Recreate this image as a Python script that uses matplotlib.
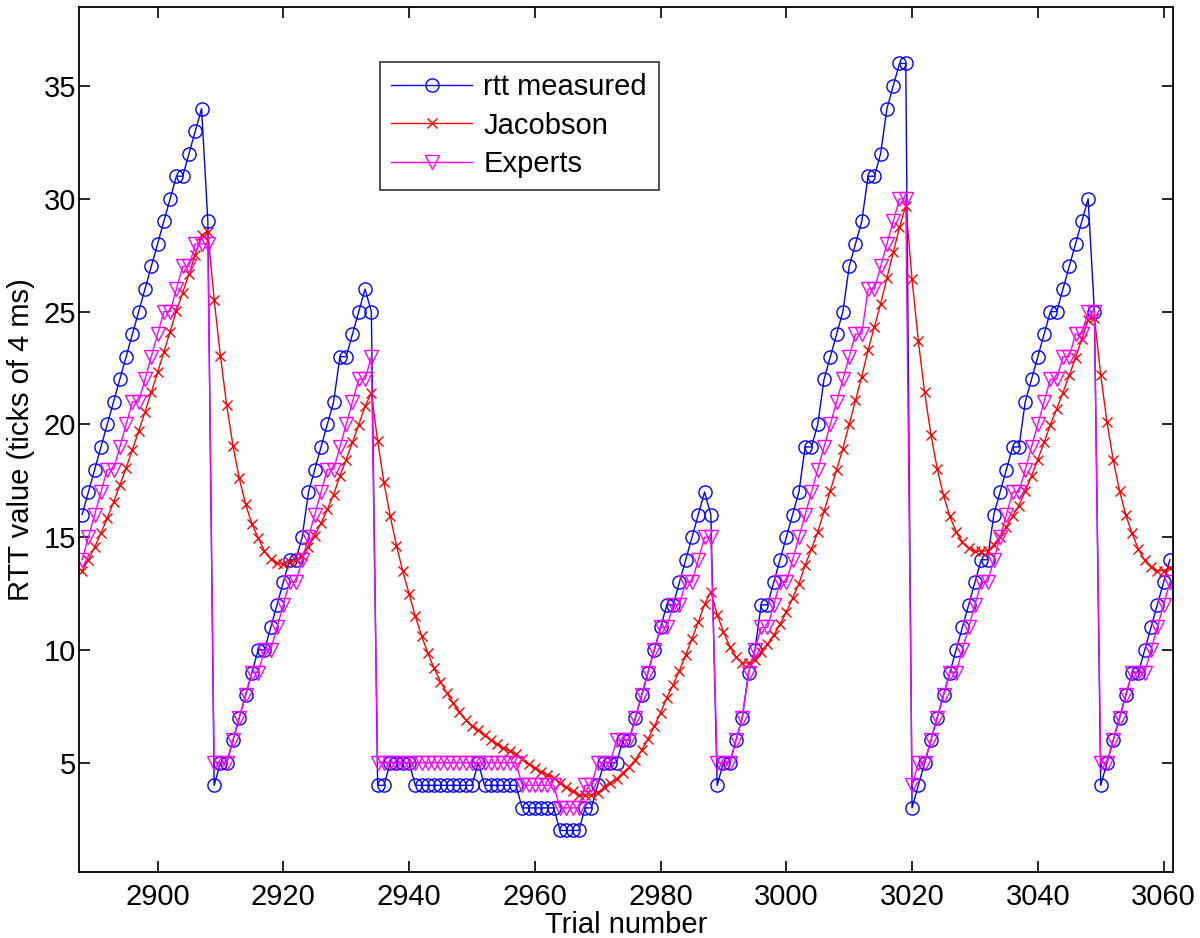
import numpy as np
import matplotlib
matplotlib.use("Agg")
import matplotlib.pyplot as plt

plt.rcParams['font.family'] = ['Liberation Sans', 'DejaVu Sans']

# trial numbers 2888 .. 3061
trials = np.arange(2888, 3062)

rtt_measured = [
    16, 17, 18, 19, 20, 21, 22, 23, 24, 25, 26, 27, 28, 29, 30, 31, 31, 32, 33, 34, 29,
    4, 5, 5, 6, 7, 8, 9, 10, 10, 11, 12, 13, 14, 14, 15, 17, 18, 19, 20, 21, 23, 23, 24, 25, 26, 25,
    4, 4, 5, 5, 5, 5, 4, 4, 4, 4, 4, 4, 4, 4, 4, 4, 5, 4, 4, 4, 4, 4, 4,
    3, 3, 3, 3, 3, 3, 2, 2, 2, 2,
    3, 3, 4, 5, 5, 5, 6, 6, 7, 8, 9, 10, 11, 12, 12, 13, 14, 15, 16, 17, 16,
    4, 5, 5, 6, 7, 9, 10, 12, 12, 13, 14, 15, 16, 17, 19, 19, 20, 22, 23, 24, 25, 27, 28, 29,
    31, 31, 32, 34, 35, 36, 36,
    3, 4, 5, 6, 7, 8, 9, 10, 11, 12, 13, 14, 14, 16, 17, 18, 19, 19, 21, 22, 23, 24, 25, 25,
    26, 27, 28, 29, 30, 25,
    4, 5, 6, 7, 8, 9, 9, 10, 11, 12, 13, 14,
]

jacobson = [
    13.50, 14.00, 14.56, 15.18, 15.85, 16.55, 17.30, 18.07, 18.87, 19.70, 20.55, 21.42,
    22.30, 23.20, 24.11, 25.03, 25.84, 26.67, 27.52, 28.39, 28.53,
    25.53, 23.03, 20.84, 19.05, 17.61, 16.47, 15.60, 14.96, 14.40, 14.04, 13.85, 13.81,
    13.90, 13.97, 14.16, 14.58, 15.07, 15.62, 16.23, 16.89, 17.72, 18.44, 19.20, 19.99,
    20.80, 21.39,
    19.28, 17.43, 15.94, 14.63, 13.49, 12.49, 11.49, 10.62, 9.85, 9.18, 8.60, 8.09, 7.64,
    7.25, 6.91, 6.61, 6.47, 6.22, 6.01, 5.82, 5.66, 5.51, 5.38, 5.15, 4.94, 4.76, 4.60,
    4.46, 4.34, 4.11, 3.91, 3.73, 3.58,
    3.57, 3.56, 3.68, 3.91, 4.11, 4.28, 4.56, 4.80, 5.14, 5.56, 6.05, 6.61, 7.22, 7.88,
    8.46, 9.09, 9.77, 10.49, 11.24, 12.02, 12.58,
    11.57, 10.81, 10.15, 9.69, 9.42, 9.43, 9.56, 9.93, 10.25, 10.66, 11.14, 11.69, 12.29,
    12.94, 13.76, 14.48, 15.23, 16.14, 17.06, 17.99, 18.93, 20.00, 21.06, 22.12, 23.29,
    24.32, 25.34, 26.49, 27.62, 28.73, 29.70,
    26.43, 23.69, 21.42, 19.55, 18.04, 16.85, 15.93, 15.25, 14.78, 14.50, 14.37, 14.39,
    14.40, 14.66, 15.02, 15.45, 15.96, 16.40, 17.04, 17.72, 18.44, 19.20, 19.99, 20.68,
    21.41, 22.17, 22.96, 23.78, 24.62, 24.73,
    22.20, 20.11, 18.41, 17.05, 15.98, 15.17, 14.46, 13.97, 13.66, 13.52, 13.52, 13.64,
]

experts = [
    14, 15, 16, 17, 18, 18, 19, 20, 21, 21, 22, 23, 24, 25, 25, 26, 27, 27, 28, 28, 28,
    5, 5, 5, 6, 7, 8, 9, 9, 10, 10, 11, 12, 13, 13, 14, 15, 16, 17, 18, 18, 19, 20, 21, 22, 22, 23,
    5, 5, 5, 5, 5, 5, 5, 5, 5, 5, 5, 5, 5, 5, 5, 5, 5, 5, 5, 5, 5, 5, 5,
    4, 4, 4, 4, 4, 4, 3, 3, 3, 3,
    4, 4, 5, 5, 5, 6, 6, 6, 7, 8, 9, 10, 11, 11, 12, 12, 13, 13, 14, 15, 15,
    5, 5, 5, 6, 7, 9, 10, 11, 11, 12, 13, 13, 14, 15, 16, 17, 18, 19, 20, 21, 22, 23, 24, 24,
    26, 26, 27, 28, 29, 30, 30,
    4, 5, 5, 6, 7, 8, 9, 9, 10, 11, 12, 13, 13, 14, 15, 16, 17, 17, 18, 19, 20, 21, 22, 22,
    23, 23, 24, 24, 25, 25,
    5, 5, 6, 7, 8, 9, 9, 9, 10, 11, 12, 13,
]

fig = plt.figure(figsize=(12, 9.38), dpi=100)
ax = fig.add_axes([0.0658, 0.0704, 0.9117, 0.9221])

ax.plot(trials, rtt_measured, color='#0000ff', lw=1.0, marker='o', ms=9.5,
        mfc='none', mec='#0000ff', mew=1.0, label='rtt measured')
ax.plot(trials, jacobson, color='#ff0000', lw=1.0, marker='x', ms=6.5,
        mew=1.0, label='Jacobson')
ax.plot(trials, experts, color='#ff00ff', lw=1.0, marker='v', ms=9.5,
        mfc='none', mec='#ff00ff', mew=1.0, label='Experts')

ax.set_xlim(2887.5, 3061.5)
ax.set_ylim(0.16, 38.5)
ax.set_xticks(range(2900, 3061, 20))
ax.set_yticks(range(5, 36, 5))

ax.tick_params(direction='in', length=8, width=1.2, top=True, right=True,
               labelsize=21)
ax.tick_params(axis='y', pad=2)
ax.tick_params(axis='x', pad=8)
for s in ax.spines.values():
    s.set_linewidth(1.3)

ax.set_xlabel('Trial number', fontsize=21, labelpad=0)
ax.set_ylabel('RTT value (ticks of 4 ms)', fontsize=21, labelpad=6)

leg = ax.legend(loc='upper left', bbox_to_anchor=(0.275, 0.937), fontsize=21,
                frameon=True, fancybox=False, edgecolor='black',
                handlelength=2.75, handletextpad=0.4, borderpad=0.4,
                labelspacing=0.36, borderaxespad=0)
leg.get_frame().set_linewidth(1.2)

fig.savefig('out.png', dpi=100)
